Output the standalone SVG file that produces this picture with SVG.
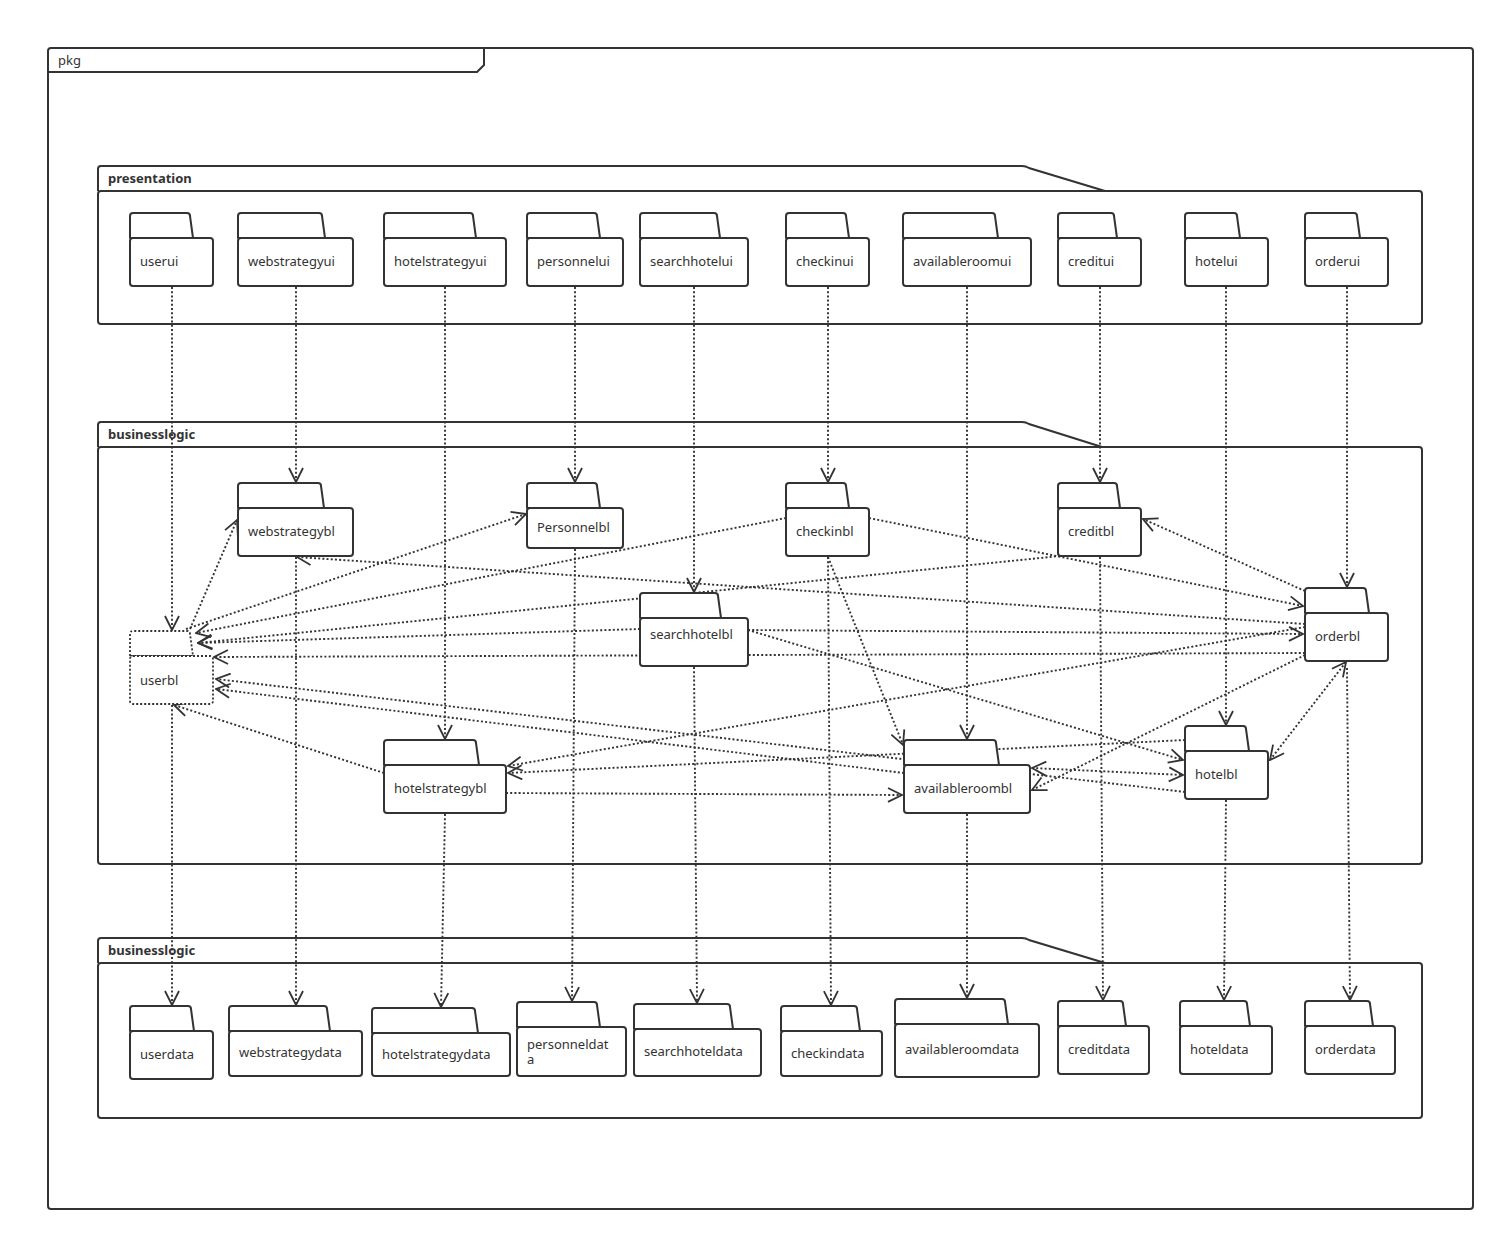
<svg xmlns="http://www.w3.org/2000/svg" width="1505" height="1242" viewBox="0 0 1505 1242">
  <defs>
    <marker id="arr" viewBox="0 0 16 16" refX="15" refY="8" markerWidth="16" markerHeight="16" orient="auto-start-reverse" markerUnits="userSpaceOnUse">
      <path d="M1,1 L15,8 L1,15" fill="none" stroke="#333" stroke-width="1.8" stroke-dasharray="none"/>
    </marker>
  </defs>
  <style>
    .frame { fill: none; stroke: #333; stroke-width: 2; }
    .tab { fill: #fff; stroke: #333; stroke-width: 2; stroke-linejoin: round; }
    .body { fill: #fff; stroke: #333; stroke-width: 2; }
    .ghost { fill: #fff; stroke: #333; stroke-width: 1.8; stroke-dasharray: 2 2; }
    .lbl { font-family: "Noto Sans", "Open Sans", sans-serif; font-size: 13px; fill: #333; }
    .title { font-family: "Noto Sans", "Open Sans", sans-serif; font-size: 13px; font-weight: bold; fill: #333; }
    .dep { fill: none; stroke: #333; stroke-width: 1.9; stroke-dasharray: 2 2.2; marker-end: url(#arr); }
    .both { marker-start: url(#arr); }
  </style>
  <rect width="1505" height="1242" fill="#fff"/>

  <!-- outer package -->
  <g id="pkg">
    <rect class="frame" x="48" y="48" width="1425" height="1161" rx="3"/>
    <path class="frame" d="M48,72 H477 L484,65 V48"/>
    <text class="lbl" x="58" y="65">pkg</text>
  </g>

  <!-- layer frames -->
  <g id="presentation">
    <path class="frame" d="M98,191 V169 Q98,166 101,166 H1022 Q1026,166 1029,168 L1105,191"/>
    <rect class="frame" x="98" y="191" width="1324" height="133" rx="3"/>
    <text class="title" x="108" y="183">presentation</text>
  </g>
  <g id="businesslogic">
    <path class="frame" d="M98,447 V425 Q98,422 101,422 H1022 Q1026,422 1029,424 L1102,447"/>
    <rect class="frame" x="98" y="447" width="1324" height="417" rx="3"/>
    <text class="title" x="108" y="439">businesslogic</text>
  </g>
  <g id="data">
    <path class="frame" d="M98,963 V941 Q98,938 101,938 H1022 Q1026,938 1029,940 L1105,963"/>
    <rect class="frame" x="98" y="963" width="1324" height="155" rx="3"/>
    <text class="title" x="108" y="955">businesslogic</text>
  </g>

  <!-- dependencies -->
  <g id="connectors">
    <!-- presentation to businesslogic -->
    <path class="dep" d="M172,287 V630"/>
    <path class="dep" d="M296,287 V482"/>
    <path class="dep" d="M445,287 V739"/>
    <path class="dep" d="M575,287 V482"/>
    <path class="dep" d="M694,287 V592"/>
    <path class="dep" d="M828,287 V482"/>
    <path class="dep" d="M967,287 V739"/>
    <path class="dep" d="M1100,287 V482"/>
    <path class="dep" d="M1226,287 V725"/>
    <path class="dep" d="M1347,287 V587"/>
    <!-- businesslogic to data -->
    <path class="dep" d="M172,705 V1005"/>
    <path class="dep" d="M296,557 V1005"/>
    <path class="dep" d="M445,814 L441,1007"/>
    <path class="dep" d="M575,549 L572,1001"/>
    <path class="dep" d="M694,667 L697,1003"/>
    <path class="dep" d="M828,557 L831,1005"/>
    <path class="dep" d="M967,814 V998"/>
    <path class="dep" d="M1100,557 L1103,1000"/>
    <path class="dep" d="M1226,800 L1224,1000"/>
    <path class="dep" d="M1347,668 L1350,1000"/>
    <!-- within businesslogic -->
    <path class="dep" d="M190,629 L237,520"/>
    <path class="dep" d="M186,629 L526,514"/>
    <path class="dep" d="M786,518 L196,633"/>
    <path class="dep" d="M1060,556 L198,643"/>
    <path class="dep" d="M640,629 L198,643"/>
    <path class="dep" d="M1305,653 L214,657"/>
    <path class="dep" d="M1185,792 L216,679"/>
    <path class="dep" d="M904,773 L216,689"/>
    <path class="dep" d="M384,773 L174,705"/>
    <path class="dep" d="M869,518 L1303,606"/>
    <path class="dep" d="M1305,624 L297,557"/>
    <path class="dep" d="M1305,591 L1143,519"/>
    <path class="dep" d="M748,630 L1303,634"/>
    <path class="dep" d="M1305,627 L508,766"/>
    <path class="dep" d="M1305,655 L1032,790"/>
    <path class="dep both" d="M1270,760 L1346,662"/>
    <path class="dep" d="M748,630 L1183,760"/>
    <path class="dep" d="M1185,740 L508,773"/>
    <path class="dep" d="M506,793 L902,795"/>
    <path class="dep" d="M828,557 L903,745"/>
    <path class="dep both" d="M1032,768 L1183,775"/>
  </g>

  <!-- presentation packages -->
  <g id="userui"><path class="tab" d="M130,238 V216 Q130,213 133,213 H187 Q190,213 190,216 L193,238 Z"/><rect class="body" x="130" y="238" width="83" height="48" rx="3"/><text class="lbl" x="140" y="266">userui</text></g>
  <g id="webstrategyui"><path class="tab" d="M238,238 V216 Q238,213 241,213 H319 Q322,213 322,216 L325,238 Z"/><rect class="body" x="238" y="238" width="115" height="48" rx="3"/><text class="lbl" x="248" y="266">webstrategyui</text></g>
  <g id="hotelstrategyui"><path class="tab" d="M384,238 V216 Q384,213 387,213 H470 Q473,213 473,216 L476,238 Z"/><rect class="body" x="384" y="238" width="122" height="48" rx="3"/><text class="lbl" x="394" y="266">hotelstrategyui</text></g>
  <g id="personnelui"><path class="tab" d="M527,238 V216 Q527,213 530,213 H594 Q597,213 597,216 L600,238 Z"/><rect class="body" x="527" y="238" width="96" height="48" rx="3"/><text class="lbl" x="537" y="266">personnelui</text></g>
  <g id="searchhotelui"><path class="tab" d="M640,238 V216 Q640,213 643,213 H714 Q717,213 717,216 L720,238 Z"/><rect class="body" x="640" y="238" width="108" height="48" rx="3"/><text class="lbl" x="650" y="266">searchhotelui</text></g>
  <g id="checkinui"><path class="tab" d="M786,238 V216 Q786,213 789,213 H843 Q846,213 846,216 L849,238 Z"/><rect class="body" x="786" y="238" width="83" height="48" rx="3"/><text class="lbl" x="796" y="266">checkinui</text></g>
  <g id="availableroomui"><path class="tab" d="M903,238 V216 Q903,213 906,213 H992 Q995,213 995,216 L998,238 Z"/><rect class="body" x="903" y="238" width="128" height="48" rx="3"/><text class="lbl" x="913" y="266">availableroomui</text></g>
  <g id="creditui"><path class="tab" d="M1058,238 V216 Q1058,213 1061,213 H1111 Q1114,213 1114,216 L1117,238 Z"/><rect class="body" x="1058" y="238" width="83" height="48" rx="3"/><text class="lbl" x="1068" y="266">creditui</text></g>
  <g id="hotelui"><path class="tab" d="M1185,238 V216 Q1185,213 1188,213 H1234 Q1237,213 1237,216 L1240,238 Z"/><rect class="body" x="1185" y="238" width="83" height="48" rx="3"/><text class="lbl" x="1195" y="266">hotelui</text></g>
  <g id="orderui"><path class="tab" d="M1305,238 V216 Q1305,213 1308,213 H1354 Q1357,213 1357,216 L1360,238 Z"/><rect class="body" x="1305" y="238" width="83" height="48" rx="3"/><text class="lbl" x="1315" y="266">orderui</text></g>

  <!-- businesslogic packages -->
  <g id="userbl"><path class="ghost" d="M130,656 V634 Q130,631 133,631 H187 Q190,631 190,634 L193,656 Z"/><rect class="ghost" x="130" y="656" width="83" height="48" rx="3"/><text class="lbl" x="140" y="685">userbl</text></g>
  <g id="webstrategybl"><path class="tab" d="M238,508 V486 Q238,483 241,483 H318 Q321,483 321,486 L324,508 Z"/><rect class="body" x="238" y="508" width="115" height="48" rx="3"/><text class="lbl" x="248" y="536">webstrategybl</text></g>
  <g id="Personnelbl"><path class="tab" d="M527,508 V486 Q527,483 530,483 H594 Q597,483 597,486 L600,508 Z"/><rect class="body" x="527" y="508" width="96" height="40" rx="3"/><text class="lbl" x="537" y="532">Personnelbl</text></g>
  <g id="checkinbl"><path class="tab" d="M786,508 V486 Q786,483 789,483 H843 Q846,483 846,486 L849,508 Z"/><rect class="body" x="786" y="508" width="83" height="48" rx="3"/><text class="lbl" x="796" y="536">checkinbl</text></g>
  <g id="creditbl"><path class="tab" d="M1058,508 V486 Q1058,483 1061,483 H1114 Q1117,483 1117,486 L1120,508 Z"/><rect class="body" x="1058" y="508" width="83" height="48" rx="3"/><text class="lbl" x="1068" y="536">creditbl</text></g>
  <g id="searchhotelbl"><path class="tab" d="M640,618 V596 Q640,593 643,593 H715 Q718,593 718,596 L721,618 Z"/><rect class="body" x="640" y="618" width="108" height="48" rx="3"/><text class="lbl" x="650" y="639">searchhotelbl</text></g>
  <g id="orderbl"><path class="tab" d="M1305,613 V591 Q1305,588 1308,588 H1363 Q1366,588 1366,591 L1369,613 Z"/><rect class="body" x="1305" y="613" width="83" height="48" rx="3"/><text class="lbl" x="1315" y="641">orderbl</text></g>
  <g id="hotelstrategybl"><path class="tab" d="M384,765 V743 Q384,740 387,740 H473 Q476,740 476,743 L479,765 Z"/><rect class="body" x="384" y="765" width="122" height="48" rx="3"/><text class="lbl" x="394" y="793">hotelstrategybl</text></g>
  <g id="availableroombl"><path class="tab" d="M904,765 V743 Q904,740 907,740 H993 Q996,740 996,743 L999,765 Z"/><rect class="body" x="904" y="765" width="126" height="48" rx="3"/><text class="lbl" x="914" y="793">availableroombl</text></g>
  <g id="hotelbl"><path class="tab" d="M1185,751 V729 Q1185,726 1188,726 H1243 Q1246,726 1246,729 L1249,751 Z"/><rect class="body" x="1185" y="751" width="83" height="48" rx="3"/><text class="lbl" x="1195" y="779">hotelbl</text></g>

  <!-- data packages -->
  <g id="userdata"><path class="tab" d="M130,1031 V1009 Q130,1006 133,1006 H188 Q191,1006 191,1009 L194,1031 Z"/><rect class="body" x="130" y="1031" width="83" height="48" rx="3"/><text class="lbl" x="140" y="1059">userdata</text></g>
  <g id="webstrategydata"><path class="tab" d="M229,1031 V1009 Q229,1006 232,1006 H324 Q327,1006 327,1009 L330,1031 Z"/><rect class="body" x="229" y="1031" width="133" height="45" rx="3"/><text class="lbl" x="239" y="1057">webstrategydata</text></g>
  <g id="hotelstrategydata"><path class="tab" d="M372,1033 V1011 Q372,1008 375,1008 H472 Q475,1008 475,1011 L478,1033 Z"/><rect class="body" x="372" y="1033" width="138" height="43" rx="3"/><text class="lbl" x="382" y="1059">hotelstrategydata</text></g>
  <g id="personneldata"><path class="tab" d="M517,1027 V1005 Q517,1002 520,1002 H594 Q597,1002 597,1005 L600,1027 Z"/><rect class="body" x="517" y="1027" width="109" height="49" rx="3"/><text class="lbl" x="527" y="1049">personneldat</text><text class="lbl" x="527" y="1064">a</text></g>
  <g id="searchhoteldata"><path class="tab" d="M634,1029 V1007 Q634,1004 637,1004 H727 Q730,1004 730,1007 L733,1029 Z"/><rect class="body" x="634" y="1029" width="127" height="47" rx="3"/><text class="lbl" x="644" y="1056">searchhoteldata</text></g>
  <g id="checkindata"><path class="tab" d="M781,1031 V1009 Q781,1006 784,1006 H854 Q857,1006 857,1009 L860,1031 Z"/><rect class="body" x="781" y="1031" width="101" height="45" rx="3"/><text class="lbl" x="791" y="1058">checkindata</text></g>
  <g id="availableroomdata"><path class="tab" d="M895,1024 V1002 Q895,999 898,999 H1002 Q1005,999 1005,1002 L1008,1024 Z"/><rect class="body" x="895" y="1024" width="144" height="53" rx="3"/><text class="lbl" x="905" y="1054">availableroomdata</text></g>
  <g id="creditdata"><path class="tab" d="M1058,1026 V1004 Q1058,1001 1061,1001 H1120 Q1123,1001 1123,1004 L1126,1026 Z"/><rect class="body" x="1058" y="1026" width="91" height="48" rx="3"/><text class="lbl" x="1068" y="1054">creditdata</text></g>
  <g id="hoteldata"><path class="tab" d="M1180,1026 V1004 Q1180,1001 1183,1001 H1244 Q1247,1001 1247,1004 L1250,1026 Z"/><rect class="body" x="1180" y="1026" width="92" height="48" rx="3"/><text class="lbl" x="1190" y="1054">hoteldata</text></g>
  <g id="orderdata"><path class="tab" d="M1305,1026 V1004 Q1305,1001 1308,1001 H1367 Q1370,1001 1370,1004 L1373,1026 Z"/><rect class="body" x="1305" y="1026" width="90" height="48" rx="3"/><text class="lbl" x="1315" y="1054">orderdata</text></g>
</svg>
